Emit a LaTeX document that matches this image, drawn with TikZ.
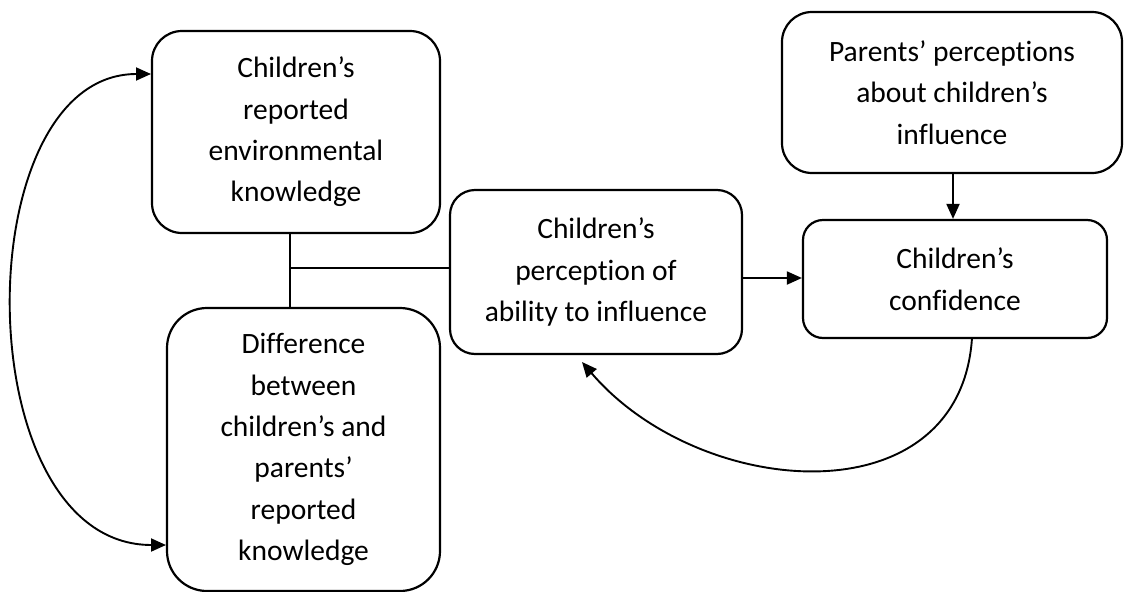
\documentclass[tikz,border=0pt]{standalone}
\usepackage{fontspec}
\setmainfont{Carlito}[Ligatures=NoCommon]
\usetikzlibrary{arrows.meta}
\tikzset{
  box/.style={draw, line width=2.2pt, rounded corners=#1, align=center, inner sep=0pt,
    font=\fontsize{29.5}{41.4}\selectfont},
  box/.default=28pt,
  conn/.style={line width=1.9pt},
  arr/.style={conn, -{Triangle[length=15pt,width=13pt]}},
  darr/.style={conn, {Triangle[length=15pt,width=13pt]}-{Triangle[length=15pt,width=13pt]}}
}
\begin{document}
\begin{tikzpicture}[x=1pt,y=-1pt]
\useasboundingbox (0,0) rectangle (1128,592);
\node[box=30pt, minimum width=288pt, minimum height=202pt] (A) at (296,132)
  {Children’s\\reported\\environmental\\knowledge};
\node[box=40pt, minimum width=273pt, minimum height=283pt] (B) at (303.5,449.5)
  {Difference\\between\\children’s and\\parents’\\reported\\knowledge};
\node[box=25pt, minimum width=292pt, minimum height=164pt] (C) at (596,272)
  {Children’s\\perception of\\ability to influence};
\node[box=20pt, minimum width=304pt, minimum height=118pt] (D) at (955,279)
  {Children’s\\confidence};
\node[box=30pt, minimum width=340pt, minimum height=161pt] (E) at (952,92.5)
  {Parents’ perceptions\\about children’s\\influence};
\coordinate (J) at (290,268);
\draw[conn] (A.south -| J) -- (B.north -| J);
\draw[conn] (J) -- (J -| C.west);
\draw[arr] (C.east |- 0,278) -- (D.west |- 0,278);
\draw[arr] (E.south -| 953,0) -- (D.north -| 953,0);
\coordinate (Dout) at (972,338);
\coordinate (Cin) at (582,362);
\draw[arr] (Dout) .. controls (960,520) and (700,500) .. (Cin);
\coordinate (Ain) at (151,74);
\coordinate (Bin) at (166,545);
\draw[darr] (Ain) .. controls (-35,74) and (-35,545) .. (Bin);
\end{tikzpicture}
\end{document}
